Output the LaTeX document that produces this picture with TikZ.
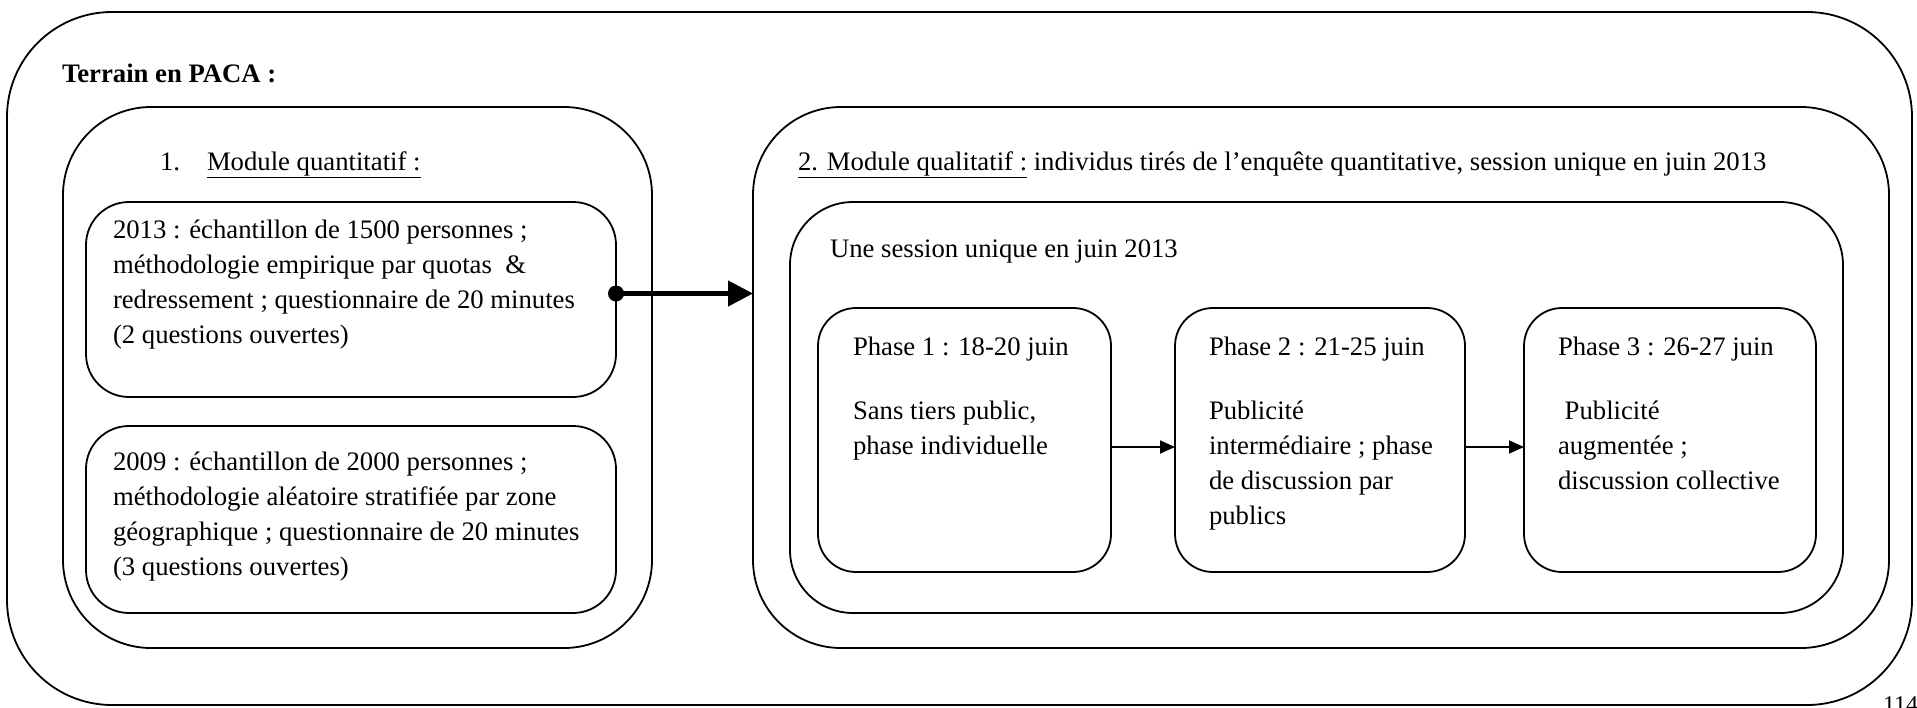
\documentclass[tikz,border=0pt]{standalone}
\usepackage{fontspec}
\setmainfont{Liberation Serif}
\usetikzlibrary{arrows.meta}
\newcommand{\lines}[1]{\parbox[t]{600pt}{\raggedright #1}}
\begin{document}
\begin{tikzpicture}[x=1pt,y=-1pt,
  every node/.style={inner sep=0pt, outer sep=0pt},
  box/.style={draw, line width=1.8pt, rectangle, anchor=north west},
  txt/.style={anchor=base west, font=\fontsize{26.7}{35}\selectfont},
  flow/.style={line width=1.8pt, -{Triangle[length=15pt,width=13pt]}},
  bigflow/.style={line width=4.5pt, -{Triangle[length=25pt,width=25pt]}}
  ]
\useasboundingbox (0,0) rectangle (1917,707);
\clip (0,0) rectangle (1917,707);

% outer frame
\node[box, rounded corners=105pt, minimum width=1905pt, minimum height=693pt] (outer) at (7,12) {};
\node[txt, font=\bfseries\fontsize{26.7}{35}\selectfont] (terrain) at (62,82) {Terrain en PACA :};

% quantitative module
\node[box, rounded corners=88pt, minimum width=589pt, minimum height=541pt] (quant) at (63,107) {};
\node[txt] (quantnum) at (160,170) {1.};
\node[txt] (quanttitle) at (207,170) {\underline{Module quantitatif :}};
\node[box, rounded corners=43pt, minimum width=530pt, minimum height=195pt] (q2013) at (86,202) {};
\node[txt] (t2013) at (113,238) {\lines{2013 : échantillon de 1500 personnes ;\\méthodologie empirique par quotas~ \&\\redressement ; questionnaire de 20 minutes\\(2 questions ouvertes)}};
\node[box, rounded corners=43pt, minimum width=530pt, minimum height=187pt] (q2009) at (86,426) {};
\node[txt] (t2009) at (113,470) {\lines{2009 : échantillon de 2000 personnes ;\\méthodologie aléatoire stratifiée par zone\\géographique ; questionnaire de 20 minutes\\(3 questions ouvertes)}};

% qualitative module
\node[box, rounded corners=88pt, minimum width=1136pt, minimum height=541pt] (qual) at (753,107) {};
\node[txt] (qualtitle) at (798,170) {\underline{2. Module qualitatif :} individus tirés de l’enquête quantitative, session unique en juin 2013};
\node[box, rounded corners=63pt, minimum width=1053pt, minimum height=411pt] (session) at (790,202) {};
\node[txt] (sessiontitle) at (830,257) {Une session unique en juin 2013};

\node[box, rounded corners=38pt, minimum width=293pt, minimum height=264pt] (p1) at (818,308) {};
\node[box, rounded corners=38pt, minimum width=290pt, minimum height=264pt] (p2) at (1175,308) {};
\node[box, rounded corners=38pt, minimum width=292pt, minimum height=264pt] (p3) at (1524,308) {};

\node[txt] (p1title) at (853,355) {Phase 1 : 18-20 juin};
\node[txt] (p1body) at (853,419) {\lines{Sans tiers public,\\phase individuelle}};
\node[txt] (p2title) at (1209,355) {Phase 2 : 21-25 juin};
\node[txt] (p2body) at (1209,419) {\lines{Publicité\\intermédiaire ; phase\\de discussion par\\publics}};
\node[txt] (p3title) at (1558,355) {Phase 3 : 26-27 juin};
\node[txt] (p3body) at (1558,419) {\lines{\hspace*{6.7pt}Publicité\\augmentée ;\\discussion collective}};

% connectors
\coordinate (dot) at ([yshift=6pt]q2013.east);
\fill (dot) circle[radius=8pt];
\draw[bigflow] (dot) -- (dot -| qual.west);
\draw[flow] ([yshift=-7pt]p1.east) -- ([yshift=-7pt]p2.west);
\draw[flow] ([yshift=-7pt]p2.east) -- ([yshift=-7pt]p3.west);

% page number
\node[anchor=north west, font=\fontsize{24}{28}\selectfont] (page) at (1883,697) {114};
\end{tikzpicture}
\end{document}
